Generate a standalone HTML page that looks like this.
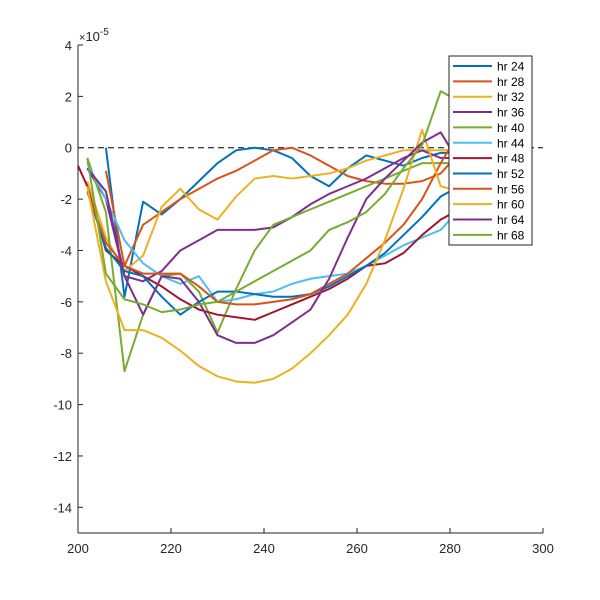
<!DOCTYPE html>
<html><head><meta charset="utf-8"><style>
body{margin:0;background:#fff}
svg{display:block;font-family:"Liberation Sans","DejaVu Sans",sans-serif}
</style></head><body>
<svg id="chart" width="600" height="600" viewBox="0 0 600 600">
<rect width="600" height="600" fill="#fff"/>
<g id="plot"></g>
<g id="axes"></g>
<g id="legend"></g>
</svg>
<script>
const xValues = [202,206,210,214,218,222,226,230,234,238,242,246,250,254,258,262,266,270,274,278,280];
const seriesNames = ["hr 24","hr 28","hr 32","hr 36","hr 40","hr 44","hr 48","hr 52","hr 56","hr 60","hr 64","hr 68"];
const hr24 = [null,0,-5.8,-2.1,-2.6,-2.0,-1.3,-0.6,-0.1,0,-0.1,-0.4,-1.1,-1.5,-0.8,-0.3,-0.5,-0.7,-0.4,-0.2,-0.2];
const hr28 = [null,-0.9,-4.6,-3.0,-2.5,-2.0,-1.6,-1.2,-0.9,-0.5,-0.1,0,-0.3,-0.7,-1.1,-1.3,-1.4,-1.4,-1.3,-1.0,-0.6];
const hr32 = [-1.3,-3.5,-4.8,-4.2,-2.3,-1.6,-2.4,-2.8,-1.9,-1.2,-1.1,-1.2,-1.1,-1.0,-0.8,-0.5,-0.3,-0.1,-0.1,-0.1,-0.1];
const hr36 = [-0.8,-2.0,-5.0,-5.2,-4.8,-4.0,-3.6,-3.2,-3.2,-3.2,-3.1,-2.7,-2.2,-1.8,-1.5,-1.2,-0.8,-0.4,-0.1,-0.4,-0.4];
const hr40 = [-0.4,-2.5,-8.7,-6.5,-5.0,-4.9,-5.6,-7.2,-5.5,-4.0,-3.0,-2.7,-2.4,-2.1,-1.8,-1.5,-1.2,-0.9,-0.6,-0.6,-0.6];
const hr44 = [-0.6,-2.0,-3.6,-4.5,-5.0,-5.3,-5.0,-6.0,-5.9,-5.7,-5.6,-5.3,-5.1,-5.0,-4.9,-4.6,-4.2,-3.8,-3.5,-3.2,-2.8];
const hr48 = [-1.5,-4.0,-4.6,-5.0,-5.4,-5.9,-6.3,-6.5,-6.6,-6.7,-6.4,-6.1,-5.8,-5.5,-5.1,-4.6,-4.5,-4.1,-3.4,-2.8,-2.6];
const hr52 = [-1.7,-3.9,-4.8,-5.0,-5.8,-6.5,-6.0,-5.6,-5.6,-5.7,-5.8,-5.8,-5.7,-5.4,-5.0,-4.6,-4.1,-3.4,-2.7,-1.9,-1.7];
const hr56 = [-1.7,-3.7,-4.6,-4.9,-4.9,-4.9,-5.4,-6.0,-6.1,-6.1,-6.0,-5.9,-5.7,-5.3,-4.9,-4.3,-3.7,-3.0,-2.0,-0.6,0];
const hr60 = [-1.5,-5.2,-7.1,-7.1,-7.4,-7.9,-8.5,-8.9,-9.1,-9.15,-9.0,-8.6,-8.0,-7.3,-6.5,-5.3,-3.6,-1.6,0.7,-1.5,-1.6];
const hr64 = [-0.8,-1.7,-5.0,-6.5,-5.0,-5.1,-6.0,-7.3,-7.6,-7.6,-7.3,-6.8,-6.3,-5.1,-3.5,-2.0,-1.2,-0.5,0.2,0.6,0];
const hr68 = [-0.4,-4.9,-5.9,-6.1,-6.4,-6.3,-6.1,-6.0,-5.6,-5.2,-4.8,-4.4,-4.0,-3.2,-2.9,-2.5,-1.8,-0.8,0.1,2.2,2.0];
const hr48Start = [200,-0.7];
const xTicks = [200,220,240,260,280,300];
const yTicks = [4,2,0,-2,-4,-6,-8,-10,-12,-14];

const colors = ["#0072BD","#D95319","#EDB120","#7E2F8E","#77AC30","#4DBEEE","#A2142F","#0072BD","#D95319","#EDB120","#7E2F8E","#77AC30"];
const allSeries = [hr24,hr28,hr32,hr36,hr40,hr44,hr48,hr52,hr56,hr60,hr64,hr68];
const L=78,R=543,T=45,B=533, X0=200,X1=300,Y0=-15,Y1=4;
const sx = x => L+(x-X0)/(X1-X0)*(R-L);
const sy = y => B-(y-Y0)/(Y1-Y0)*(B-T);
const NS="http://www.w3.org/2000/svg";
function mk(tag,attrs,parent){const e=document.createElementNS(NS,tag);for(const k in attrs)e.setAttribute(k,attrs[k]);parent.appendChild(e);return e;}
const plot=document.getElementById('plot'), axes=document.getElementById('axes'), leg=document.getElementById('legend');

const zl=mk('line',{x1:L,x2:R,y1:sy(0),y2:sy(0),stroke:"#000","stroke-width":1,"stroke-dasharray":"6,4"},plot);



allSeries.forEach((s,i)=>{
  const pts=[];
  if(i===6) pts.push(sx(hr48Start[0])+","+sy(hr48Start[1]));
  s.forEach((v,j)=>{ if(v!==null) pts.push(sx(xValues[j])+","+sy(v)); });
  const p=mk('polyline',{points:pts.join(" "),fill:"none",stroke:colors[i],"stroke-width":2,"stroke-linejoin":"round"},plot);
  
  
});

const xa=mk('line',{x1:L,x2:R,y1:B,y2:B,stroke:"#262626","stroke-width":1},axes);


const ya=mk('line',{x1:L,x2:L,y1:T,y2:B,stroke:"#262626","stroke-width":1},axes);


xTicks.forEach(t=>{
  const x=sx(t);
  mk('line',{x1:x,x2:x,y1:B,y2:B-5,stroke:"#262626"},axes);
  const tx=mk('text',{x:x,y:B+20,"text-anchor":"middle","font-size":13,fill:"#262626"},axes);
  tx.textContent=t;
  
  
});
yTicks.forEach(t=>{
  const y=sy(t);
  mk('line',{x1:L,x2:L+5,y1:y,y2:y,stroke:"#262626"},axes);
  const tx=mk('text',{x:L-6,y:y+5,"text-anchor":"end","font-size":13,fill:"#262626"},axes);
  tx.textContent=t;
  
  
});
const ex=mk('text',{x:79,y:41,"font-size":13,fill:"#262626"},axes);
ex.innerHTML='<tspan font-size="11">×</tspan>10<tspan dy="-6" font-size="10">-5</tspan>';



const box=mk('rect',{x:449,y:56,width:83,height:189,fill:"#fff",stroke:"#262626","stroke-width":1},leg);


seriesNames.forEach((n,i)=>{
  const y=66+i*15.35;
  const ln=mk('line',{x1:453,x2:492,y1:y,y2:y,stroke:colors[i],"stroke-width":2},leg);
  
  
  const tx=mk('text',{x:497,y:y+4.5,"font-size":12,fill:"#000"},leg);
  tx.textContent=n;
  
  
});
</script>
</body></html>
